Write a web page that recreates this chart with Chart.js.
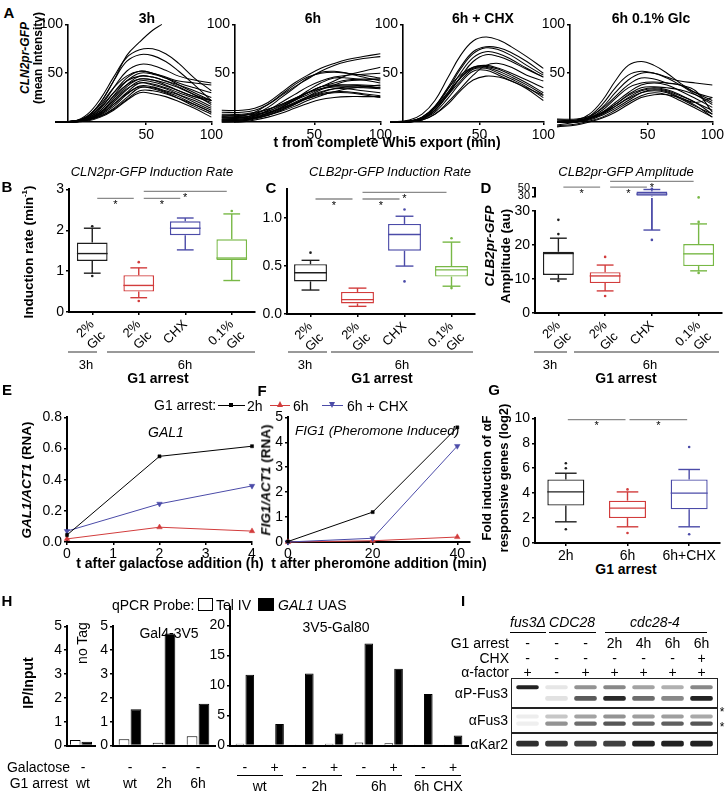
<!DOCTYPE html>
<html><head><meta charset="utf-8">
<script src="https://cdn.jsdelivr.net/npm/chart.js@4.4.0/dist/chart.umd.min.js"></script>
<style>
body{margin:0;background:#fff;width:726px;height:793px;position:relative;overflow:hidden;font-family:'Liberation Sans',Arial,Helvetica,sans-serif;color:#000}
.t{position:absolute;white-space:nowrap;line-height:1}
canvas{position:absolute}
.ln{position:absolute}
</style></head><body>
<script>
// ================= DATA =================
// Panel A: single-cell CLN2pr-GFP traces (x = min after Whi5 export)
const A_X = [-20,-5,5,15,25,35,45,55,65,75,87,100];
const A_TICKS = [50,100];
const A_3H = [
 [0,1,8,24,46,66,74,75,70,60,45,32],
 [0,1,6,20,42,62,69,68,62,52,38,22],
 [0,1,5,16,35,52,59,58,53,47,43,40],
 [0,1,4,14,30,45,52,50,46,42,40,38],
 [0,1,4,12,27,42,50,49,45,40,35,30],
 [0,1,3,10,24,38,47,46,42,38,32,25],
 [0,1,3,10,22,36,44,43,40,35,28,22],
 [0,1,3,9,20,33,42,41,37,32,26,20],
 [0,0,2,8,18,30,40,39,35,30,24,16],
 [0,0,2,7,16,28,37,36,32,28,22,14],
 [0,0,2,6,14,25,35,35,31,26,18,10],
 [0,0,2,6,13,23,32,32,29,24,16,8],
 [0,0,1,5,12,22,30,29,26,21,14,5],
 [0,1,6,18,35,47,52,50,45,38,30,22],
 [0,1,5,15,30,42,47,46,42,36,28,18],
 [0,0,3,10,22,34,40,38,34,28,20,12],
 [0,1,4,12,26,38,44,43,38,32,26,22],
 [0,0,2,8,18,29,36,34,30,24,18,10]
];
const A_3H_STEEP_X = [-20,-5,5,15,25,35,45,55,62];
const A_3H_STEEP_Y = [0,1,6,20,42,68,82,94,100];
const A_6H = [
 [12,12,14,20,30,40,48,55,60,64,67,70],
 [10,10,12,18,27,36,44,52,58,62,65,67],
 [5,6,10,18,28,38,46,50,51,50,48,45],
 [3,4,8,15,25,35,45,51,52,50,46,42],
 [2,3,6,12,20,28,36,42,46,48,49,50],
 [6,7,9,13,18,24,30,36,42,48,52,56],
 [4,5,7,11,17,23,30,36,40,43,44,44],
 [2,3,5,9,15,22,30,36,38,38,38,37],
 [0,1,4,9,15,22,28,34,37,38,37,35],
 [8,8,10,13,18,24,30,34,36,36,35,34],
 [1,2,4,8,13,19,25,30,34,36,36,35],
 [3,4,6,9,14,20,26,31,34,34,32,30],
 [0,1,3,7,12,18,24,29,31,31,29,27],
 [5,5,7,10,14,19,24,28,30,30,28,25],
 [2,2,4,7,11,16,22,27,31,34,36,38],
 [0,0,2,5,9,14,19,23,25,26,26,26],
 [7,7,8,11,16,23,32,40,45,45,43,40],
 [1,2,4,7,12,18,26,33,38,42,43,44]
];
const A_6H_CHX = [
 [0,2,8,22,45,68,83,87,84,77,67,55],
 [0,1,5,16,35,56,72,77,76,71,62,50],
 [0,1,5,15,33,54,70,76,74,68,58,48],
 [0,1,4,14,30,50,66,72,70,64,55,46],
 [0,1,4,12,28,46,62,69,67,62,54,46],
 [0,1,5,16,34,48,56,57,54,48,40,30],
 [0,0,4,14,30,45,55,56,52,46,38,28],
 [0,0,3,12,27,42,54,55,50,44,36,25],
 [0,0,3,10,24,40,52,53,48,42,34,22],
 [0,0,2,8,20,34,48,58,60,56,48,42],
 [0,0,2,8,18,32,43,47,46,42,35,27],
 [0,0,3,12,28,45,56,58,55,50,43,35]
];
const A_6H_GLC = [
 [2,2,8,22,42,58,62,58,50,40,30,22],
 [0,1,6,18,35,48,52,50,45,38,28,18],
 [0,1,5,15,30,43,50,50,46,42,40,38],
 [3,3,6,14,26,38,45,44,40,38,30,25],
 [0,0,4,12,24,35,40,41,40,38,32,10],
 [-3,0,4,10,18,28,35,36,35,33,28,20],
 [0,0,3,9,18,27,33,35,33,28,20,12],
 [0,0,3,8,16,25,32,34,32,27,20,8],
 [0,0,2,7,14,22,30,33,31,25,17,5],
 [-4,-2,1,5,12,20,27,30,28,22,14,5],
 [2,2,4,9,16,24,30,32,30,24,16,8],
 [0,1,4,10,20,30,38,40,38,32,24,15],
 [-5,-3,0,4,10,18,25,28,28,25,20,25]
];
// Panels B-D, G: box plots
const BOX_CATS = [['2%','Glc'],['2%','Glc'],'CHX',['0.1%','Glc']];
const B_Q1 = [1.25,0.5,1.88,1.27], B_Q3 = [1.7,0.9,2.22,1.78], B_MED = [1.43,0.65,2.05,1.32];
const B_WLO = [0.95,0.35,1.52,0.77], B_WHI = [2.05,1.08,2.3,2.4];
const B_OUT = [[0.88,2.1],[0.27,1.22],[],[2.47]];
const B_SIG = [[0,1,2.78],[1,2,2.78],[1,3,2.95]];
const C_Q1 = [0.34,0.11,0.66,0.39], C_Q3 = [0.52,0.23,0.94,0.5], C_MED = [0.43,0.15,0.83,0.46];
const C_WLO = [0.25,0.08,0.5,0.29], C_WHI = [0.56,0.27,1.02,0.75];
const C_OUT = [[0.64],[],[0.34,1.09],[0.27,0.79]];
const C_SIG = [[0,1,1.2],[1,2,1.2],[1,3,1.27]];
const C_TICKS = [0,0.5,1.0];
const D_Q1 = [11.2,8.8,null,13.8], D_Q3 = [18,12,null,20.3], D_MED = [17.5,10.9,null,17.4];
const D_WLO = [10,6.5,24.4,12.4], D_WHI = [22,14.1,33.8,26.2];
const D_OUT = [[9.4,23.2,27.4],[5,16.5],[21.5],[11.8,26.8,34]];
const D_TICKS = [0,10,20,30];
const D_UP_Q1 = [null,null,31.3,null], D_UP_Q3 = [null,null,41.5,null], D_UP_MED = [null,null,35.5,null];
const D_UP_WLO = [null,null,30,null], D_UP_WHI = [null,null,46.4,null];
const D_UP_OUT = [[],[],[48],[]];
const D_UP_TICKS = [30,50];
const D_SIG = [[0,1,52],[1,2,52],[1,3,66]];
const G_CATS = ['2h','6h','6h+CHX'];
const G_Q1 = [3.0,2.0,2.7], G_Q3 = [5.1,3.4,5.1], G_MED = [4.1,2.8,4.0];
const G_WLO = [1.7,1.3,1.3], G_WHI = [5.6,4.1,5.9];
const G_OUT = [[1.1,6.0,6.4],[0.8,4.3],[0.7,7.7]];
const G_SIG = [[0,1,9.9],[1,2,9.9]];
// Panels E, F: RNA time courses
const E_X = [0,2,4];
const E_2H = [0.045,0.55,0.615], E_6H = [0.02,0.095,0.07], E_CHX = [0.07,0.245,0.36];
const F_X = [0,20,40];
const F_XTICKS = [0,20,40];
const F_2H = [0.02,1.2,4.6], F_6H = [0,0.05,0.2], F_CHX = [0,0.15,3.85];
// Panel H: ChIP IP/Input
const H1_CATS = ['wt'], H1_TEL = [0.23], H1_GAL = [0.16];
const H2_CATS = ['wt','2h','6h'], H2_TEL = [0.27,0.12,0.39], H2_GAL = [1.52,4.7,1.76];
const H3_CATS = ['wt-','wt+','2h-','2h+','6h-','6h+','CHX-','CHX+'];
const H3_GALACTOSE = ['-','+','-','+','-','+','-','+'];
const H3_GROUPS = ['wt','2h','6h','6h CHX'];
const H3_TEL = [0.3,0.2,0.05,0.3,0.5,0.4,0.2,0.2];
const H3_GAL = [11.8,3.6,12.0,2.0,17.0,12.8,8.6,1.7];
const H_SMALL_TICKS = [0,1,2,3,4,5], H_BIG_TICKS = [0,5,10,15,20];
// Panel I: western blot lanes and band intensities (0-1)
const I_LANES = ['fus3','CDC28-','CDC28+','2h','4h','6h','6hCHX'];
const I_ARREST = ['-','-','-','2h','4h','6h','6h'];
const I_CHX = ['-','-','-','-','-','-','+'];
const I_AF = ['+','-','+','+','+','+','+'];
const I_PFUS3_UP = [0.95,0.08,0.45,0.5,0.38,0.32,0.5];
const I_PFUS3_LO = [0,0.1,0.7,0.92,0.62,0.5,0.95];
const I_FUS3_UP = [0.05,0.22,0.38,0.45,0.4,0.4,0.35];
const I_FUS3_LO = [0.04,0.45,0.62,0.72,0.65,0.68,0.72];
const I_KAR2 = [0.9,0.85,0.82,0.82,0.95,0.95,0.95];

// ================= HELPERS =================
const FONT = "'Liberation Sans', Arial, Helvetica, sans-serif";
Chart.defaults.font.family = FONT;
Chart.defaults.color = '#000';
Chart.defaults.animation = false;
Chart.defaults.responsive = false;
Chart.defaults.plugins.legend.display = false;
Chart.defaults.plugins.tooltip.enabled = false;
const BLACK='#1e1e1e', RED='#d23c3c', BLUE='#4b4ba8', GREEN='#78b846';
const BOXCOL = [BLACK,RED,BLUE,GREEN];

const boxPlugin = {
  id:'boxes',
  afterDatasetsDraw(chart, args, o){
    if(!o || !o.med) return;
    const ctx=chart.ctx, xs=chart.scales.x, ys=chart.scales.y;
    const cw = xs.getPixelForValue(1)-xs.getPixelForValue(0);
    const Y = v=>ys.getPixelForValue(v);
    const line=(a,b,c,d)=>{ctx.beginPath();ctx.moveTo(a,b);ctx.lineTo(c,d);ctx.stroke();};
    ctx.save();
    for(let i=0;i<o.med.length;i++){
      const cx=xs.getPixelForValue(i), col=o.colors[i];
      ctx.strokeStyle=col; ctx.fillStyle=col; ctx.lineWidth=1.4;
      const bw=cw*o.boxW/2, kw=cw*o.capW/2;
      const q1=o.q1[i], q3=o.q3[i], m=o.med[i], lo=o.wlo[i], hi=o.whi[i];
      if(m!=null) line(cx-bw,Y(m),cx+bw,Y(m));
      if(lo!=null){ line(cx,Y(q1!=null?q1:(hi!=null?hi:lo)),cx,Y(lo)); if(!(o.noCapLo&&o.noCapLo[i])) line(cx-kw,Y(lo),cx+kw,Y(lo)); }
      if(hi!=null){ line(cx,Y(q3!=null?q3:(lo!=null?lo:hi)),cx,Y(hi)); if(!(o.noCapHi&&o.noCapHi[i])) line(cx-kw,Y(hi),cx+kw,Y(hi)); }
      const outs=o.out[i]||[];
      for(let k=0;k<outs.length;k++){ctx.beginPath();ctx.arc(cx,Y(outs[k]),1.3,0,Math.PI*2);ctx.fill();}
    }
    const sig=o.sig||[];
    for(let k=0;k<sig.length;k++){
      const s=sig[k];
      const xa=xs.getPixelForValue(s[0])+o.sigIn, xb=xs.getPixelForValue(s[1])-o.sigIn, y=Y(s[2]);
      ctx.strokeStyle='#8a8a8a'; ctx.lineWidth=1.3; line(xa,y,xb,y);
      ctx.fillStyle='#000'; ctx.font='11px '+FONT; ctx.textAlign='center'; ctx.textBaseline='top';
      ctx.fillText('*',(xa+xb)/2,y+1);
    }
    ctx.restore();
  }
};
Chart.register(boxPlugin);

function mk(rect, m, cfg){
  const [x0,y0,x1,y1]=rect;
  const sc=cfg.options.scales;
  const xOn=sc.x.display!==false, yOn=sc.y.display!==false;
  const W=Math.round(x1-x0)+m.yW+m.r, H=Math.round(y1-y0)+m.t+m.xH;
  const c=document.createElement('canvas');
  c.width=W; c.height=H;
  Object.assign(c.style,{left:(Math.round(x0)-m.yW)+'px',top:(Math.round(y0)-m.t)+'px',width:W+'px',height:H+'px'});
  document.body.appendChild(c);
  cfg.options.devicePixelRatio=1;
  cfg.options.layout={padding:{top:m.t,right:m.r,left:yOn?0:m.yW,bottom:xOn?0:m.xH}};
  if(xOn) sc.x.afterFit=s=>{s.height=m.xH;};
  if(yOn) sc.y.afterFit=s=>{s.width=m.yW;};
  return new Chart(c,cfg);
}
function T(html,x,y,o={}){
  const d=document.createElement('div'); d.className='t'; d.innerHTML=html;
  d.style.fontSize=(o.s||13)+'px';
  if(o.b) d.style.fontWeight='bold';
  if(o.i) d.style.fontStyle='italic';
  if(o.c) d.style.color=o.c;
  const ax=o.a==='l'?'0%':o.a==='r'?'-100%':'-50%';
  d.style.left=x+'px'; d.style.top=y+'px';
  d.style.transform='translate('+ax+',-50%)'+(o.r?' rotate('+o.r+'deg)':'');
  document.body.appendChild(d); return d;
}
function L(x1,x2,y,col,w){
  const d=document.createElement('div'); d.className='ln';
  Object.assign(d.style,{left:x1+'px',top:(y-(w||1.5)/2)+'px',width:(x2-x1)+'px',height:(w||1.5)+'px',background:col||'#999'});
  document.body.appendChild(d);
}
function R(x,y,w,h,css){
  const d=document.createElement('div'); d.className='ln';
  Object.assign(d.style,{left:x+'px',top:y+'px',width:w+'px',height:h+'px',boxSizing:'border-box'},css);
  document.body.appendChild(d);
}
const tickGrid = ()=>({display:true,drawOnChartArea:false,drawTicks:true,tickLength:3,color:'#000',lineWidth:1.5,offset:false});
const axBorder = ()=>({display:true,color:'#000',width:2});
function fixedTicks(arr){return s=>{s.ticks=arr.map(v=>({value:v}));};}

// ================= PANEL A =================
function aChart(rect, curves, extraX, extraY){
  const base={borderColor:'#000',borderWidth:1.05,pointRadius:0,tension:0.4,fill:false,clip:false};
  const ds=curves.map(c=>Object.assign({},base,{data:A_X.map((x,i)=>({x:x,y:c[i]}))}));
  if(extraX) ds.push(Object.assign({},base,{data:extraX.map((x,i)=>({x:x,y:extraY[i]}))}));
  const tk=()=>({font:{size:14},padding:2,autoSkip:false});
  return mk(rect,{yW:30,xH:18,t:10,r:12},{type:'line',data:{datasets:ds},options:{scales:{
    x:{type:'linear',min:-10,max:100,afterBuildTicks:fixedTicks(A_TICKS),ticks:tk(),grid:tickGrid(),border:{display:true,color:'#000',width:1.6}},
    y:{type:'linear',min:0,max:100,afterBuildTicks:fixedTicks(A_TICKS),ticks:tk(),grid:tickGrid(),border:{display:true,color:'#000',width:1.6}}
  }}});
}
aChart([68,24,213,122],A_3H,A_3H_STEEP_X,A_3H_STEEP_Y);
aChart([235,24,382,122],A_6H);
aChart([403,24,545,122],A_6H_CHX);
aChart([570,24,714,122],A_6H_GLC);
T('A',9,12,{s:15,b:1});
T('3h',147,18,{s:14,b:1}); T('6h',313,18,{s:14,b:1});
T('6h + CHX',483,18,{s:14,b:1}); T('6h 0.1% Glc',651,18,{s:14,b:1});
T('<i>CLN2pr-GFP</i>',25,58,{s:12,b:1,r:-90});
T('(mean Intensity)',38,58,{s:12,b:1,r:-90});
T('t from complete Whi5 export (min)',387,142,{s:14,b:1});

// ================= BOX PLOTS =================
function boxChart(rect,m,o){
  return mk(rect,m,{type:'bar',data:{labels:o.cats,datasets:[{
      data:o.q1.map((v,i)=>v==null?null:[v,o.q3[i]]),
      backgroundColor:'#fff',borderColor:o.colors,borderWidth:1.4,borderSkipped:false,
      barPercentage:o.bw,categoryPercentage:1}]},
    options:{plugins:{boxes:{colors:o.colors,q1:o.q1,q3:o.q3,med:o.med,wlo:o.wlo,whi:o.whi,out:o.out,
      sig:o.sig||[],sigIn:o.sigIn||5,boxW:o.bw,capW:o.cw,noCapLo:o.noCapLo||[],noCapHi:o.noCapHi||[]}},
      scales:{x:o.x,y:o.y}}});
}
function catX(rot,size){
  return {type:'category',display:true,ticks:{font:{size:size||13},minRotation:rot,maxRotation:rot,autoSkip:false,padding:2},
    grid:tickGrid(),border:axBorder()};
}
function yAx(min,max,step,size,extra){
  return Object.assign({min:min,max:max,ticks:{stepSize:step,font:{size:size||14},padding:2,autoSkip:false},grid:tickGrid(),border:axBorder()},extra||{});
}
// B
boxChart([69,189,255,312],{yW:26,xH:40,t:10,r:4},{cats:BOX_CATS,colors:BOXCOL,q1:B_Q1,q3:B_Q3,med:B_MED,wlo:B_WLO,whi:B_WHI,out:B_OUT,sig:B_SIG,bw:0.66,cw:0.36,
  x:catX(45),y:yAx(0,3,1)});
// C
const cY=yAx(0,1.3,0.5,14,{afterBuildTicks:fixedTicks(C_TICKS)}); cY.ticks.callback=v=>v.toFixed(1);
boxChart([287,189,475,314],{yW:32,xH:40,t:10,r:4},{cats:BOX_CATS,colors:BOXCOL,q1:C_Q1,q3:C_Q3,med:C_MED,wlo:C_WLO,whi:C_WHI,out:C_OUT,sig:C_SIG,bw:0.7,cw:0.38,
  x:catX(45),y:cY});
// D upper (axis break) - created first so the lower chart's labels sit on top
boxChart([535,188,722,199],{yW:28,xH:6,t:14,r:3},{cats:BOX_CATS,colors:BOXCOL,q1:D_UP_Q1,q3:D_UP_Q3,med:D_UP_MED,wlo:D_UP_WLO,whi:D_UP_WHI,out:D_UP_OUT,sig:D_SIG,noCapLo:[false,false,true,false],bw:0.66,cw:0.36,
  x:{type:'category',display:false},y:yAx(30,50,20,11,{afterBuildTicks:fixedTicks(D_UP_TICKS)})});
// D lower
const dLowY = yAx(0,30,10,14,{afterBuildTicks:fixedTicks(D_TICKS)});
dLowY.ticks.callback = v=>String(v);
boxChart([535,211,722,313],{yW:28,xH:40,t:24,r:3},{cats:BOX_CATS,colors:BOXCOL,q1:D_Q1,q3:D_Q3,med:D_MED,wlo:D_WLO,whi:D_WHI,out:D_OUT,noCapHi:[false,false,true,false],bw:0.66,cw:0.36,
  x:catX(45),y:dLowY});
// G
boxChart([535,418,720,543],{yW:26,xH:18,t:10,r:4},{cats:G_CATS,colors:[BLACK,RED,BLUE],q1:G_Q1,q3:G_Q3,med:G_MED,wlo:G_WLO,whi:G_WHI,out:G_OUT,sig:G_SIG,sigIn:2,bw:0.6,cw:0.35,
  x:catX(0,14),y:yAx(0,10,2)});

T('B',7,186,{s:15,b:1}); T('C',271,187,{s:15,b:1}); T('D',486,187,{s:15,b:1});
T('CLN2pr-GFP Induction Rate',152,171,{s:13,i:1});
T('CLB2pr-GFP Induction Rate',390,171,{s:13,i:1});
T('CLB2pr-GFP Amplitude',626,171,{s:13,i:1});
T('Induction rate (min<sup style="font-size:8px">-1</sup>)',28,252,{s:13.5,b:1,r:-90});
T('<i>CLB2pr-GFP</i>',490,246,{s:13.5,b:1,r:-90});
T('Amplitude (au)',506,256,{s:13.5,b:1,r:-90});
[[68,97,86,107,255,185,158],[288,327,305,331,473,402,382],[534,567,550,574,719,650,626]].forEach(g=>{
  L(g[0],g[1],352,'#999',1.5); T('3h',g[2],364,{s:13});
  L(g[3],g[4],352,'#999',1.5); T('6h',g[5],364,{s:13});
  T('G1 arrest',g[6],378,{s:14,b:1});
});
T('G',494,389,{s:15,b:1});
T('Fold induction of αF',486,478,{s:13,b:1,r:-90});
T('responsive genes (log2)',503,478,{s:13,b:1,r:-90});
T('G1 arrest',626,569,{s:14,b:1});

// ================= PANELS E, F =================
function lds(xs,ys,col,style,rot){
  return {data:xs.map((x,i)=>({x:x,y:ys[i]})),borderColor:col,backgroundColor:col,borderWidth:1,
    pointStyle:style,pointRotation:rot||0,pointRadius:style==='rect'?2.2:3.2,pointBorderWidth:0.5,tension:0,clip:false};
}
function lineChart(rect,m,xs,a,b,c,xo,yo){
  return mk(rect,m,{type:'line',data:{datasets:[lds(xs,a,'#000','rect'),lds(xs,c,BLUE,'triangle',180),lds(xs,b,RED,'triangle')]},
    options:{scales:{x:Object.assign({type:'linear',grid:tickGrid(),border:axBorder()},xo),
      y:Object.assign({type:'linear',grid:tickGrid(),border:axBorder()},yo)}}});
}
lineChart([67,417,252,542],{yW:34,xH:16,t:10,r:10},E_X,E_2H,E_6H,E_CHX,
  {min:0,max:4,ticks:{stepSize:1,font:{size:14},padding:1}},
  {min:0,max:0.8,ticks:{stepSize:0.2,font:{size:14},padding:2,callback:v=>v.toFixed(1)}});
lineChart([288,417,470,542],{yW:22,xH:16,t:10,r:10},F_X,F_2H,F_6H,F_CHX,
  {min:0,max:43,afterBuildTicks:fixedTicks(F_XTICKS),ticks:{font:{size:14},padding:1,autoSkip:false}},
  {min:0,max:5,ticks:{stepSize:1,font:{size:14},padding:2}});
T('E',7,389,{s:15,b:1}); T('F',262,390,{s:15,b:1});
T('G1 arrest:',154,405,{s:14,a:'l'});
L(218,245,405,'#000',1); R(229,403,4,4,{background:'#000'}); T('2h',247,406,{s:14,a:'l'});
L(270,290,405,RED,1); R(277,401,0,0,{borderLeft:'3.5px solid transparent',borderRight:'3.5px solid transparent',borderBottom:'6px solid '+RED,width:'0',height:'0'}); T('6h',293,406,{s:14,a:'l'});
L(322,343,405,BLUE,1); R(329,402,0,0,{borderLeft:'3.5px solid transparent',borderRight:'3.5px solid transparent',borderTop:'6px solid '+BLUE,width:'0',height:'0'}); T('6h + CHX',347,406,{s:14,a:'l'});
T('GAL1',166,432,{s:14,i:1});
T('FIG1 (Pheromone Induced)',295,431,{s:13.5,i:1,a:'l'});
T('<i>GAL1/ACT1</i> (RNA)',27,480,{s:13.5,b:1,r:-90});
T('<i>FIG1/ACT1</i> (RNA)',266,480,{s:13.5,b:1,r:-90});
T('t after galactose addition (h)',170,563,{s:14,b:1});
T('t after pheromone addition (min)',379,563,{s:14,b:1});

// ================= PANEL H =================
function hChart(rect,cats,tel,gal,ymax,ticks,catP,barP){
  return mk(rect,{yW:22,xH:2,t:10,r:2},{type:'bar',data:{labels:cats,datasets:[
    {data:tel,backgroundColor:'#fff',borderColor:'#000',borderWidth:1,categoryPercentage:catP,barPercentage:barP},
    {data:gal,backgroundColor:'#000',borderColor:'#000',borderWidth:1,categoryPercentage:catP,barPercentage:barP}]},
    options:{scales:{x:{ticks:{display:false},grid:{display:false},border:axBorder()},
      y:{min:0,max:ymax,afterBuildTicks:fixedTicks(ticks),ticks:{font:{size:14},padding:2,autoSkip:false},grid:tickGrid(),border:axBorder()}}}});
}
const h1=hChart([67,626,95,754],H1_CATS,H1_TEL,H1_GAL,5,H_SMALL_TICKS,0.82,0.92);
const h2=hChart([113,626,215,754],H2_CATS,H2_TEL,H2_GAL,5,H_SMALL_TICKS,0.7,0.9);
const h3=hChart([230,607,468,754],H3_CATS,H3_TEL,H3_GAL,23,H_BIG_TICKS,0.66,0.88);
T('H',7,600,{s:15,b:1});
T('qPCR Probe:',112,605,{s:14,a:'l'});
R(198,598,15,13,{border:'1px solid #000',background:'#fff'}); T('Tel IV',216,605,{s:14,a:'l'});
R(258,598,16,13,{background:'#000'}); T('<i>GAL1</i> UAS',278,605,{s:14,a:'l'});
T('no Tag',82,643,{s:14,r:-90});
T('Gal4-3V5',169,633,{s:14});
T('3V5-Gal80',336,627,{s:14});
T('IP/Input',28,683,{s:14,b:1,r:-90});
T('Galactose',70,767,{s:14,a:'r'}); T('G1 arrest',68,783,{s:14,a:'r'});
function cx(ch,i){return ch.canvas.offsetLeft+ch.scales.x.getPixelForValue(i);}
T('-',cx(h1,0)+2,767,{s:14}); T('wt',cx(h1,0)+2,783,{s:14});
H2_CATS.forEach((c,i)=>{T('-',cx(h2,i),767,{s:14}); T(c,cx(h2,i),783,{s:14});});
H3_GALACTOSE.forEach((c,i)=>T(c,cx(h3,i),767,{s:14}));
H3_GROUPS.forEach((g,k)=>{
  const a=cx(h3,2*k), b=cx(h3,2*k+1);
  L(a-8,b+8,775,'#000',1); T(g,(a+b)/2,786,{s:14});
});

// ================= PANEL I =================
function gray(v){const c=Math.round(248-v*225);return 'rgb('+c+','+c+','+c+')';}
function blot(rect,bands){
  const ch=mk(rect,{yW:0,xH:0,t:0,r:0},{type:'bar',data:{labels:I_LANES,datasets:bands.map(b=>({
      data:b.v.map(v=>v>0?[b.lo,b.hi]:null),backgroundColor:b.v.map(gray),borderWidth:0,
      borderRadius:2,borderSkipped:false,barPercentage:0.78,categoryPercentage:1,grouped:false}))},
    options:{scales:{x:{type:'category',display:false},y:{display:false,min:0,max:1,reverse:true}}}});
  R(rect[0]-2,rect[1]-2,rect[2]-rect[0]+4,rect[3]-rect[1]+4,{border:'1.6px solid #222'});
  return ch;
}
const b1=blot([513,680,716,706],[{lo:0.2,hi:0.36,v:I_PFUS3_UP},{lo:0.62,hi:0.8,v:I_PFUS3_LO}]);
blot([513,710,716,731],[{lo:0.22,hi:0.4,v:I_FUS3_UP},{lo:0.55,hi:0.75,v:I_FUS3_LO}]);
blot([513,735,716,753],[{lo:0.32,hi:0.64,v:I_KAR2}]);
T('I',463,600,{s:15,b:1});
T('<i>fus3Δ</i>',528,622,{s:14}); T('<i>CDC28</i>',572,622,{s:14}); T('<i>cdc28-4</i>',655,622,{s:14});
L(510,546,632,'#000',1); L(549,596,632,'#000',1); L(605,707,632,'#000',1);
T('G1 arrest',509,643,{s:14,a:'r'}); T('CHX',509,658,{s:14,a:'r'}); T('α-factor',509,672,{s:14,a:'r'});
I_LANES.forEach((l,i)=>{
  const x=cx(b1,i);
  T(I_ARREST[i],x,643,{s:14}); T(I_CHX[i],x,658,{s:14}); T(I_AF[i],x,672,{s:14});
});
T('αP-Fus3',508,693,{s:14,a:'r'}); T('αFus3',508,720,{s:14,a:'r'}); T('αKar2',508,744,{s:14,a:'r'});
T('*',722,712,{s:12}); T('*',722,727,{s:12});
</script></body></html>
